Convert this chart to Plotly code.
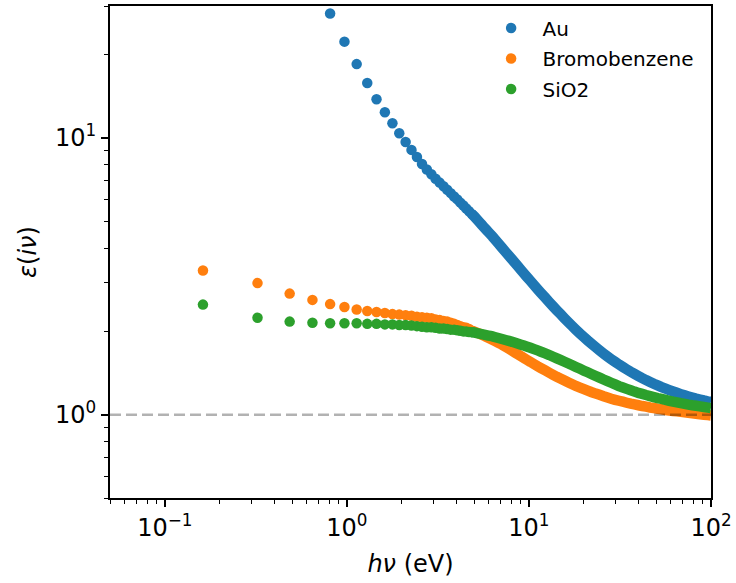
import math
import plotly.graph_objects as go

# Matsubara-type photon energies (eV)
energy_ev = [
    0.162, 0.323, 0.485, 0.647, 0.809, 0.970, 1.132, 1.294, 1.455, 1.617,
    1.779, 1.940, 2.102, 2.264, 2.426, 2.587, 2.749, 2.911, 3.072, 3.234,
    3.396, 3.557, 3.719, 3.881, 4.043, 4.204, 4.366, 4.528, 4.689, 4.851,
    5.013, 5.174, 5.336, 5.498, 5.660, 5.821, 5.983, 6.145, 6.306, 6.468,
    6.791, 7.115, 7.438, 7.762, 8.085, 8.408, 8.732, 9.055, 9.379, 9.702,
    10.19, 10.67, 11.16, 11.64, 12.29, 12.94, 13.58, 14.23, 14.88, 15.68,
    16.49, 17.30, 18.11, 19.08, 20.05, 21.02, 22.15, 23.28, 24.42, 25.71,
    27.00, 28.30, 29.75, 31.21, 32.83, 34.44, 36.22, 38.00, 39.94, 41.88,
    43.98, 46.25, 48.51, 50.94, 53.52, 56.27, 59.02, 61.93, 65.00, 68.24,
    71.63, 75.19, 78.91, 82.79, 86.99, 91.36, 95.89, 99.93,
]

eps_au = [
    None, None, None, None, 28.2, 22.3, 18.5, 15.8, 13.8, 12.4,
    11.3, 10.4, 9.67, 9.06, 8.54, 8.06, 7.69, 7.40, 7.12, 6.90,
    6.69, 6.50, 6.32, 6.15, 6.00, 5.84, 5.70, 5.56, 5.44, 5.319,
    5.206, 5.085, 4.972, 4.864, 4.762, 4.666, 4.575, 4.488, 4.406, 4.319,
    4.158, 4.012, 3.878, 3.756, 3.640, 3.529, 3.426, 3.331, 3.242, 3.160,
    3.045, 2.939, 2.842, 2.754, 2.649, 2.551, 2.463, 2.384, 2.312, 2.231,
    2.157, 2.090, 2.029, 1.964, 1.907, 1.854, 1.800, 1.752, 1.709, 1.664,
    1.624, 1.588, 1.552, 1.519, 1.487, 1.458, 1.429, 1.404, 1.379, 1.356,
    1.334, 1.313, 1.294, 1.276, 1.258, 1.242, 1.227, 1.213, 1.200, 1.187,
    1.175, 1.164, 1.154, 1.144, 1.135, 1.126, 1.118, 1.112,
]

eps_bromobenzene = [
    3.32, 2.99, 2.74, 2.60, 2.51, 2.45, 2.40, 2.37, 2.35, 2.33,
    2.31, 2.30, 2.29, 2.28, 2.26, 2.25, 2.24, 2.23, 2.21, 2.20,
    2.18, 2.17, 2.15, 2.13, 2.11, 2.09, 2.07, 2.06, 2.04, 2.012,
    1.995, 1.979, 1.963, 1.947, 1.932, 1.914, 1.897, 1.880, 1.864, 1.849,
    1.819, 1.791, 1.759, 1.730, 1.702, 1.675, 1.650, 1.626, 1.604, 1.582,
    1.552, 1.523, 1.496, 1.473, 1.445, 1.418, 1.394, 1.371, 1.352, 1.329,
    1.307, 1.288, 1.270, 1.253, 1.237, 1.222, 1.206, 1.192, 1.180, 1.166,
    1.154, 1.142, 1.132, 1.123, 1.114, 1.105, 1.096, 1.089, 1.082, 1.075,
    1.069, 1.062, 1.057, 1.051, 1.046, 1.040, 1.036, 1.032, 1.028, 1.024,
    1.020, 1.016, 1.012, 1.008, 1.004, 1.000, 0.997, 0.994,
]

eps_sio2 = [
    2.50, 2.24, 2.17, 2.15, 2.14, 2.14, 2.14, 2.13, 2.13, 2.12,
    2.12, 2.11, 2.11, 2.10, 2.09, 2.08, 2.07, 2.07, 2.06, 2.05,
    2.05, 2.04, 2.03, 2.03, 2.02, 2.01, 2.00, 2.00, 1.99, 1.988,
    1.982, 1.973, 1.965, 1.957, 1.949, 1.941, 1.933, 1.926, 1.919, 1.910,
    1.893, 1.877, 1.862, 1.848, 1.834, 1.819, 1.805, 1.791, 1.778, 1.765,
    1.746, 1.726, 1.707, 1.689, 1.666, 1.643, 1.620, 1.598, 1.578, 1.554,
    1.531, 1.509, 1.488, 1.465, 1.443, 1.423, 1.401, 1.380, 1.361, 1.340,
    1.322, 1.305, 1.287, 1.269, 1.254, 1.240, 1.226, 1.212, 1.199, 1.189,
    1.178, 1.168, 1.158, 1.148, 1.140, 1.131, 1.123, 1.115, 1.108, 1.101,
    1.095, 1.088, 1.082, 1.077, 1.072, 1.066, 1.061, 1.057,
]

series_names = ["Au", "Bromobenzene", "SiO2"]
series_colors = ["#1f77b4", "#ff7f0e", "#2ca02c"]

x_range = [0.05, 100]
y_range = [0.5, 30]
ref_level = 1.0

x_major = [0.1, 1, 10, 100]
x_major_text = ["10<sup>−1</sup>", "10<sup>0</sup>", "10<sup>1</sup>", "10<sup>2</sup>"]
y_major = [1, 10]
y_major_text = ["10<sup>0</sup>", "10<sup>1</sup>"]

x_minor = [0.05, 0.06, 0.07, 0.08, 0.09,
           0.2, 0.3, 0.4, 0.5, 0.6, 0.7, 0.8, 0.9,
           2, 3, 4, 5, 6, 7, 8, 9,
           20, 30, 40, 50, 60, 70, 80, 90]
y_minor = [0.5, 0.6, 0.7, 0.8, 0.9, 2, 3, 4, 5, 6, 7, 8, 9, 20, 30]

MARKER_D = 10.5
DENSE_START = 29  # from here on the markers overlap into a continuous band

fig = go.Figure()
for name, color, vals in zip(series_names, series_colors,
                             [eps_au, eps_bromobenzene, eps_sio2]):
    # the dense part: overlapping markers form a continuous band
    fig.add_trace(go.Scatter(
        x=energy_ev[DENSE_START:], y=vals[DENSE_START:], mode="lines",
        showlegend=False, hoverinfo="skip", legendgroup=name,
        line=dict(color=color, width=MARKER_D, simplify=False),
    ))
    fig.add_trace(go.Scatter(
        x=energy_ev[:DENSE_START + 1], y=vals[:DENSE_START + 1],
        mode="markers", name=name, legendgroup=name,
        marker=dict(color=color, size=MARKER_D, line=dict(width=0)),
    ))

fig.add_trace(go.Scatter(
    x=x_range, y=[ref_level, ref_level], mode="lines", showlegend=False,
    line=dict(color="rgba(0,0,0,0.3)", width=2.5, dash="11px,5px"),
    hoverinfo="skip",
))

font_family = "DejaVu Sans"
axis_common = dict(
    showline=True, linecolor="black", linewidth=1.8, mirror=True,
    showgrid=False, zeroline=False,
    ticks="outside", ticklen=7, tickwidth=1.5, tickcolor="black",
    tickfont=dict(family=font_family, size=24, color="black"),
)

fig.update_xaxes(
    type="log", range=[math.log10(x_range[0]), math.log10(x_range[1])],
    tickmode="array", tickvals=x_major, ticktext=x_major_text,
    minor=dict(tickmode="array", tickvals=x_minor, ticks="outside",
               ticklen=4, tickwidth=1.2, tickcolor="black", showgrid=False),
    title=dict(text="<i>hν</i> (eV)", font=dict(family=font_family, size=24, color="black"),
               standoff=14),
    **axis_common,
)
fig.update_yaxes(
    type="log", range=[math.log10(y_range[0]), math.log10(y_range[1])],
    tickmode="array", tickvals=y_major, ticktext=y_major_text,
    minor=dict(tickmode="array", tickvals=y_minor, ticks="outside",
               ticklen=4, tickwidth=1.2, tickcolor="black", showgrid=False),
    title=dict(text="<i>ε</i>(<i>iν</i>)", font=dict(family=font_family, size=24, color="black"),
               standoff=12),
    **axis_common,
)

fig.update_layout(
    width=736, height=583,
    margin=dict(l=110, r=23, t=4, b=85),
    paper_bgcolor="white", plot_bgcolor="white",
    font=dict(family=font_family, size=20, color="black"),
    legend=dict(x=0.615, y=0.995, xanchor="left", yanchor="top",
                bgcolor="rgba(0,0,0,0)", borderwidth=0, itemwidth=53,
                font=dict(family=font_family, size=20, color="black"),
                tracegroupgap=1.5),
    showlegend=True,
)

fig.write_html("out.html")
